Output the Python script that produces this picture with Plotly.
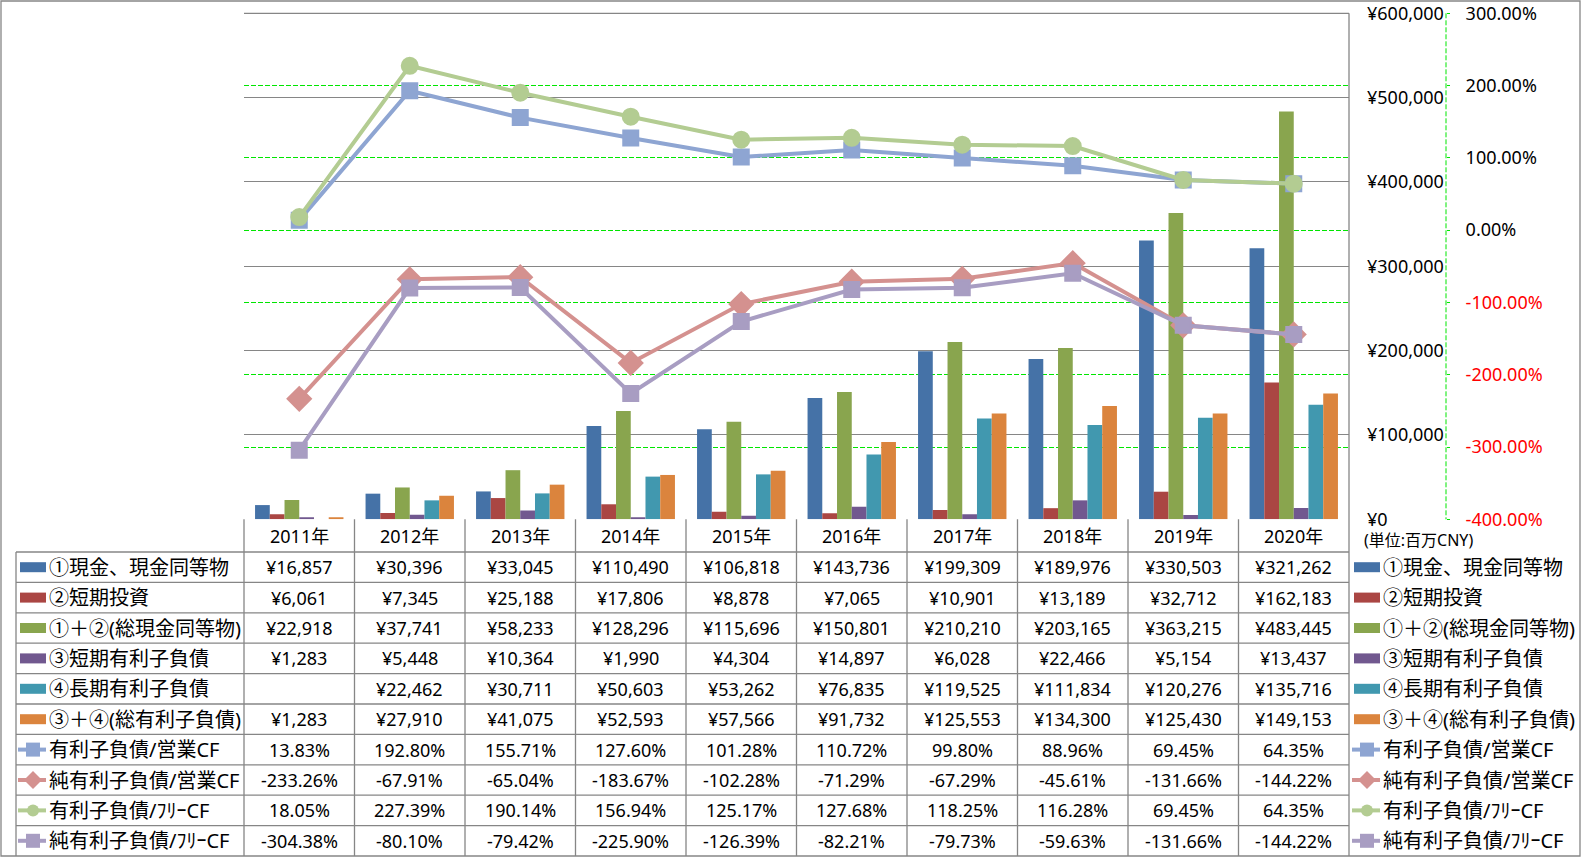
import plotly.graph_objects as go

# ---------------- data ----------------
years = ["2011年", "2012年", "2013年", "2014年", "2015年", "2016年", "2017年", "2018年", "2019年", "2020年"]

cash = [16857, 30396, 33045, 110490, 106818, 143736, 199309, 189976, 330503, 321262]
short_inv = [6061, 7345, 25188, 17806, 8878, 7065, 10901, 13189, 32712, 162183]
total_cash = [22918, 37741, 58233, 128296, 115696, 150801, 210210, 203165, 363215, 483445]
short_debt = [1283, 5448, 10364, 1990, 4304, 14897, 6028, 22466, 5154, 13437]
long_debt = [None, 22462, 30711, 50603, 53262, 76835, 119525, 111834, 120276, 135716]
total_debt = [1283, 27910, 41075, 52593, 57566, 91732, 125553, 134300, 125430, 149153]

debt_ocf = [13.83, 192.80, 155.71, 127.60, 101.28, 110.72, 99.80, 88.96, 69.45, 64.35]
net_debt_ocf = [-233.26, -67.91, -65.04, -183.67, -102.28, -71.29, -67.29, -45.61, -131.66, -144.22]
debt_fcf = [18.05, 227.39, 190.14, 156.94, 125.17, 127.68, 118.25, 116.28, 69.45, 64.35]
net_debt_fcf = [-304.38, -80.10, -79.42, -225.90, -126.39, -82.21, -79.73, -59.63, -131.66, -144.22]

bar_names = ["①現金、現金同等物", "②短期投資", "①＋②(総現金同等物)",
             "③短期有利子負債", "④長期有利子負債", "③＋④(総有利子負債)"]
line_names = ["有利子負債/営業CF", "純有利子負債/営業CF", "有利子負債/ﾌﾘｰCF", "純有利子負債/ﾌﾘｰCF"]

yen_ticks = [0, 100000, 200000, 300000, 400000, 500000, 600000]
pct_ticks = [-400, -300, -200, -100, 0, 100, 200, 300]
unit_label = "(単位:百万CNY)"

# ---------------- styles ----------------
W, H = 1581, 858
FONT = "Noto Sans, Noto Sans CJK JP, sans-serif"
bar_colors = ["#4572A7", "#AA4643", "#89A54E", "#71588F", "#4198AF", "#DB843D"]
line_colors = ["#8EA5D2", "#D4918F", "#B3CC92", "#A89DC2"]
line_symbols = ["square", "diamond", "circle", "square"]
line_msize = [15, 18, 16, 15]
GRID = "#868686"
GREEN = "#00E600"

PL, PR, PT, PB = 244, 1349, 13.3, 519.3
COLW = (PR - PL) / 10
ROW0, ROWH = 552, 30.4


def X(px):
    return px / W


def Y(py):
    return 1 - py / H


fig = go.Figure()

bar_series = [cash, short_inv, total_cash, short_debt, long_debt, total_debt]
for name, vals, col in zip(bar_names, bar_series, bar_colors):
    fig.add_trace(go.Bar(x=years, y=vals, name=name, marker=dict(color=col, line=dict(width=0)),
                         yaxis="y"))

line_series = [debt_ocf, net_debt_ocf, debt_fcf, net_debt_fcf]
for name, vals, col, sym, ms in zip(line_names, line_series, line_colors, line_symbols, line_msize):
    fig.add_trace(go.Scatter(x=years, y=vals, name=name, mode="lines+markers", yaxis="y2",
                             line=dict(color=col, width=4),
                             marker=dict(symbol=sym, size=ms, color=col, line=dict(color=col, width=2))))

shapes = []
annotations = []

# outer border
shapes.append(dict(type="rect", xref="paper", yref="paper", x0=X(1), x1=X(1580), y0=Y(856), y1=Y(1),
                   line=dict(color=GRID, width=1.3)))
# top gridline (range edge)
shapes.append(dict(type="line", xref="paper", yref="paper", x0=X(PL), x1=X(PR), y0=Y(PT), y1=Y(PT),
                   line=dict(color=GRID, width=1.3)))
# right vertical line of plot / table
shapes.append(dict(type="line", xref="paper", yref="paper", x0=X(PR), x1=X(PR), y0=Y(PT), y1=Y(856),
                   line=dict(color=GRID, width=1.3)))
# secondary axis dashed line
shapes.append(dict(type="line", xref="paper", yref="paper", x0=X(1446), x1=X(1446), y0=Y(PT), y1=Y(PB),
                   line=dict(color=GREEN, width=1, dash="5px,2px")))

# table grid
for k in range(10):
    xx = PL + k * COLW
    shapes.append(dict(type="line", xref="paper", yref="paper", x0=X(xx), x1=X(xx), y0=Y(PB), y1=Y(856),
                       line=dict(color=GRID, width=1.3)))
shapes.append(dict(type="line", xref="paper", yref="paper", x0=X(16), x1=X(16), y0=Y(ROW0), y1=Y(856),
                   line=dict(color=GRID, width=1.3)))
for i in range(10):
    yy = ROW0 + i * ROWH
    shapes.append(dict(type="line", xref="paper", yref="paper", x0=X(16), x1=X(PR), y0=Y(yy), y1=Y(yy),
                       line=dict(color=GRID, width=1.3)))

# header row (years)
for yr in years:
    annotations.append(dict(xref="x", yref="paper", x=yr, y=Y((PB + ROW0) / 2), text=yr, showarrow=False,
                            xanchor="center", yanchor="middle", font=dict(size=18)))


def fmt_yen(v):
    return "" if v is None else "¥{:,}".format(v)


def fmt_pct(v):
    return "" if v is None else "{:.2f}%".format(v)


rows = [(n, s, fmt_yen) for n, s in zip(bar_names, bar_series)] + \
       [(n, s, fmt_pct) for n, s in zip(line_names, line_series)]

for i, (name, vals, f) in enumerate(rows):
    cy = ROW0 + (i + 0.5) * ROWH
    for yr, v in zip(years, vals):
        annotations.append(dict(xref="x", yref="paper", x=yr, y=Y(cy), text=f(v), showarrow=False,
                                xanchor="center", yanchor="middle", font=dict(size=18)))
    for lx in (20, 1354):
        annotations.append(dict(xref="paper", yref="paper", x=X(lx + 27), y=Y(cy), text=name, showarrow=False,
                                xanchor="left", yanchor="middle", font=dict(size=20)))
        if i < 6:
            shapes.append(dict(type="rect", xref="paper", yref="paper", x0=X(lx), x1=X(lx + 26),
                               y0=Y(cy + 5), y1=Y(cy - 5), fillcolor=bar_colors[i], line=dict(width=0)))
        else:
            j = i - 6
            col = line_colors[j]
            shapes.append(dict(type="line", xref="paper", yref="paper", x0=X(lx - 2), x1=X(lx + 26),
                               y0=Y(cy), y1=Y(cy), line=dict(color=col, width=4)))
            cx = lx + 13
            if line_symbols[j] == "square":
                shapes.append(dict(type="rect", xref="paper", yref="paper", x0=X(cx - 7), x1=X(cx + 7),
                                   y0=Y(cy + 7), y1=Y(cy - 7), fillcolor=col, line=dict(width=0)))
            elif line_symbols[j] == "circle":
                shapes.append(dict(type="circle", xref="paper", yref="paper", x0=X(cx - 6), x1=X(cx + 6),
                                   y0=Y(cy + 6), y1=Y(cy - 6), fillcolor=col, line=dict(width=0)))
            else:
                d = 9
                path = "M {} {} L {} {} L {} {} L {} {} Z".format(
                    X(cx - d), Y(cy), X(cx), Y(cy - d), X(cx + d), Y(cy), X(cx), Y(cy + d))
                shapes.append(dict(type="path", xref="paper", yref="paper", path=path, fillcolor=col,
                                   line=dict(width=0)))

annotations.append(dict(xref="paper", yref="paper", x=X(1362), y=Y(540), text=unit_label,
                        showarrow=False, xanchor="left", yanchor="middle", font=dict(size=16)))

yen_text = ["¥{:,}".format(v) for v in yen_ticks]
pct_text = []
for v in pct_ticks:
    s = "{:.2f}%".format(v)
    if v < 0:
        s = '<span style="color:#FF0000">' + s + '</span>'
    pct_text.append(s)

fig.update_layout(
    width=W, height=H, margin=dict(l=0, r=0, t=0, b=0, pad=0, autoexpand=False),
    paper_bgcolor="white", plot_bgcolor="rgba(0,0,0,0)",
    font=dict(family=FONT, size=18, color="#000000"),
    showlegend=False, barmode="group", bargap=0.2, bargroupgap=0,
    xaxis=dict(domain=[X(PL), X(PR)], type="category", range=[-0.5, 9.5], showticklabels=False,
               showgrid=False, zeroline=False, showline=False, ticks="", automargin=False),
    yaxis=dict(domain=[Y(PB), Y(PT)], range=[0, 600000], tickmode="array", tickvals=yen_ticks,
               ticktext=yen_text, side="right", showgrid=True, gridcolor=GRID, gridwidth=1.3,
               zeroline=False, ticks="", ticklabelstandoff=17, showline=False, tickfont=dict(size=18),
               automargin=False),
    yaxis2=dict(overlaying="y", side="right", anchor="free", position=X(1446), range=[-400, 300],
                tickmode="array", tickvals=pct_ticks, ticktext=pct_text, showgrid=True, gridcolor=GREEN,
                griddash="5px,2px", gridwidth=1, zeroline=False, ticks="outside", ticklen=3, tickcolor=GREEN,
                ticklabelstandoff=12, showline=False, tickfont=dict(size=18), automargin=False),
    shapes=shapes, annotations=annotations,
)

post = ("document.body.style.margin='0';document.body.style.padding='0';"
        "document.body.style.overflow='hidden';"
        "var gd=document.getElementById('{plot_id}');gd.style.position='fixed';"
        "gd.style.left='0px';gd.style.top='0px';")
fig.write_html("out.html", post_script=post, config={"displayModeBar": False})
